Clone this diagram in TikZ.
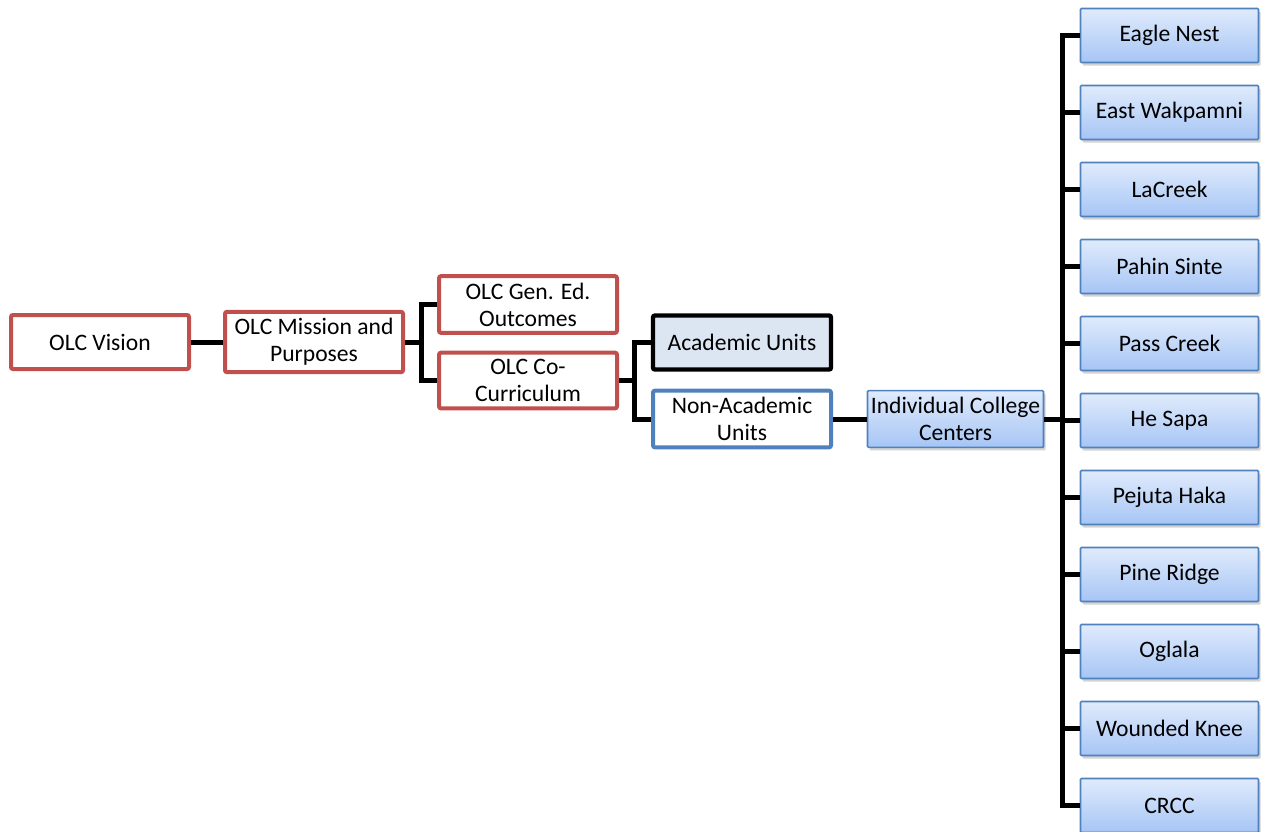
\documentclass[tikz,border=0pt]{standalone}
\usepackage{fontspec}
\setmainfont{Carlito}
\usetikzlibrary{positioning,calc,shadows}
\definecolor{BoxRed}{RGB}{192,80,77}
\definecolor{BoxBlue}{RGB}{79,129,189}
\definecolor{UnitFill}{RGB}{220,230,242}
\definecolor{CenterTop}{RGB}{224,235,252}
\definecolor{CenterBot}{RGB}{166,197,245}

\begin{document}
\begin{tikzpicture}[x=0.5pt,y=-0.5pt,
		box/.style={rectangle,rounded corners=1pt,align=center,inner xsep=1pt,
			minimum width=89pt,minimum height=27pt,
			font=\fontsize{11.8}{13.4}\selectfont},
		planbox/.style={box,draw=BoxRed,line width=2pt,fill=white},
		unitbox/.style={box,draw=black,line width=2.2pt,fill=UnitFill},
		otherbox/.style={box,draw=BoxBlue,line width=2pt,fill=white},
		centerbox/.style={box,draw=BoxBlue,line width=0.8pt,rounded corners=0.5pt,
			top color=CenterTop,bottom color=CenterBot,
			drop shadow={opacity=0.35,shadow xshift=1pt,shadow yshift=-1.5pt}},
		link/.style={line width=2.5pt,black}]
	\useasboundingbox (0,0) rectangle (1262,831);
	
	% planning chain
	\node[planbox] (vision) at (100,342) {OLC Vision};
	\node[planbox] (mission) at (314,342) {OLC Mission and\\Purposes};
	\node[planbox] (gened) at (528,304.5) {OLC Gen. Ed.\\Outcomes};
	\node[planbox] (cocurr) at (528,380.5) {OLC Co-\\Curriculum};
	\node[unitbox] (acad) at (742,342.5) {Academic Units};
	\node[otherbox] (nonacad) at (742,419) {Non-Academic\\Units};
	\node[centerbox,minimum width=88pt] (icc) at (955.5,419) {Individual College\\Centers};
	
	% college centers
	\foreach \i/\name in {1/Eagle Nest,2/East Wakpamni,3/LaCreek,4/Pahin Sinte,
		5/Pass Creek,6/He Sapa,7/Pejuta Haka,8/Pine Ridge,9/Oglala,
		10/Wounded Knee,11/CRCC}
	\node[centerbox] (c\i) at (1169.5,{35.5+77*(\i-1)}) {\name};
	
	\draw[link] (vision) -- (mission);
	\coordinate (m) at ($(mission.east)!0.5!(gened.west)$);
	\draw[link] (mission.east) -- (mission.east -| m);
	\draw[link] (gened.west) -| (m) |- (cocurr.west);
	
	\coordinate (u) at ($(cocurr.east)!0.5!(acad.west)$);
	\draw[link] (cocurr.east) -- (cocurr.east -| u);
	\draw[link] (acad.west) -| (u) |- (nonacad.west);
	
	\draw[link] (nonacad) -- (icc);
	
	\coordinate (bus) at ($(icc.east)!0.5!(c6.west)$);
	\draw[link] (c1.west) -| (bus) |- (c11.west);
	\foreach \i in {2,...,10}
	\draw[link] (c\i.west) -- (c\i.west -| bus);
	\draw[link] (icc.east) -- (icc.east -| bus);
\end{tikzpicture}
\end{document}
